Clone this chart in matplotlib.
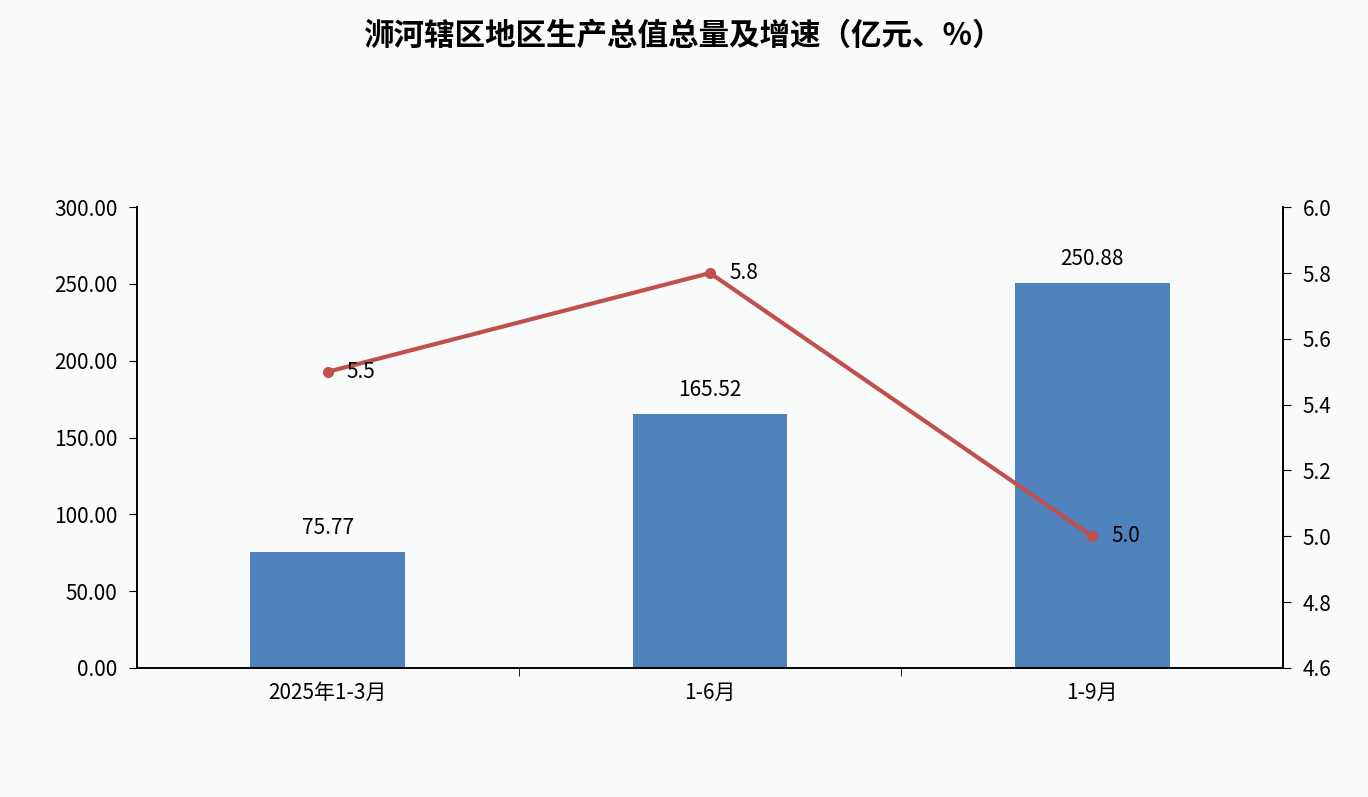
import matplotlib.pyplot as plt
import numpy as np

plt.rcParams['font.family'] = ['Noto Sans CJK SC', 'DejaVu Sans']

categories = ["2025年1-3月", "1-6月", "1-9月"]
gdp = [75.77, 165.52, 250.88]
growth = [5.5, 5.8, 5.0]

bg = "#f9fbfa"
fig = plt.figure(figsize=(13.68, 7.97), dpi=100, facecolor=bg)
ax = fig.add_axes([0.1, 0.162, 0.838, 0.578], facecolor=bg)
ax2 = ax.twinx()

x = np.arange(len(categories))
ax.bar(x, gdp, width=0.405, color="#4f81bd", zorder=2)
for xi, v in zip(x, gdp):
    ax.text(xi, v + 8, f"{v:.2f}", ha="center", va="bottom", fontsize=15)

ax2.plot(x, growth, color="#c0504d", lw=3, marker="o", ms=7, zorder=3)
for xi, v in zip(x, growth):
    ax2.text(xi + 0.05, v, f"{v:.1f}", ha="left", va="center", fontsize=15)

ax.set_xlim(-0.5, 2.5)
ax.set_ylim(0, 300)
ax.set_yticks(np.arange(0, 301, 50))
ax.set_yticklabels([f"{t:.2f}" for t in np.arange(0, 301, 50)])
ax2.set_ylim(4.6, 6.0)
ax2.set_yticks(np.arange(4.6, 6.01, 0.2))
ax2.set_yticklabels([f"{t:.1f}" for t in np.arange(4.6, 6.01, 0.2)])

ax.set_xticks(x)
ax.set_xticklabels(categories)
ax.set_xticks([0.5, 1.5], minor=True)
ax.tick_params(axis="x", which="major", length=0, labelsize=15, pad=10)
ax.tick_params(axis="x", which="minor", length=6, direction="out")
ax.tick_params(axis="y", labelsize=15, length=6, direction="out", pad=8)
ax2.tick_params(axis="y", labelsize=15, length=6, direction="out", pad=8)

for a in (ax, ax2):
    a.spines["top"].set_visible(False)
    for s in ("left", "right", "bottom"):
        a.spines[s].set_color("black")
        a.spines[s].set_linewidth(1.2)

fig.text(0.5, 0.955, "浉河辖区地区生产总值总量及增速（亿元、%）", ha="center", va="center",
         fontsize=22, fontweight="bold")

fig.savefig("out.png", dpi=100, facecolor=bg)
